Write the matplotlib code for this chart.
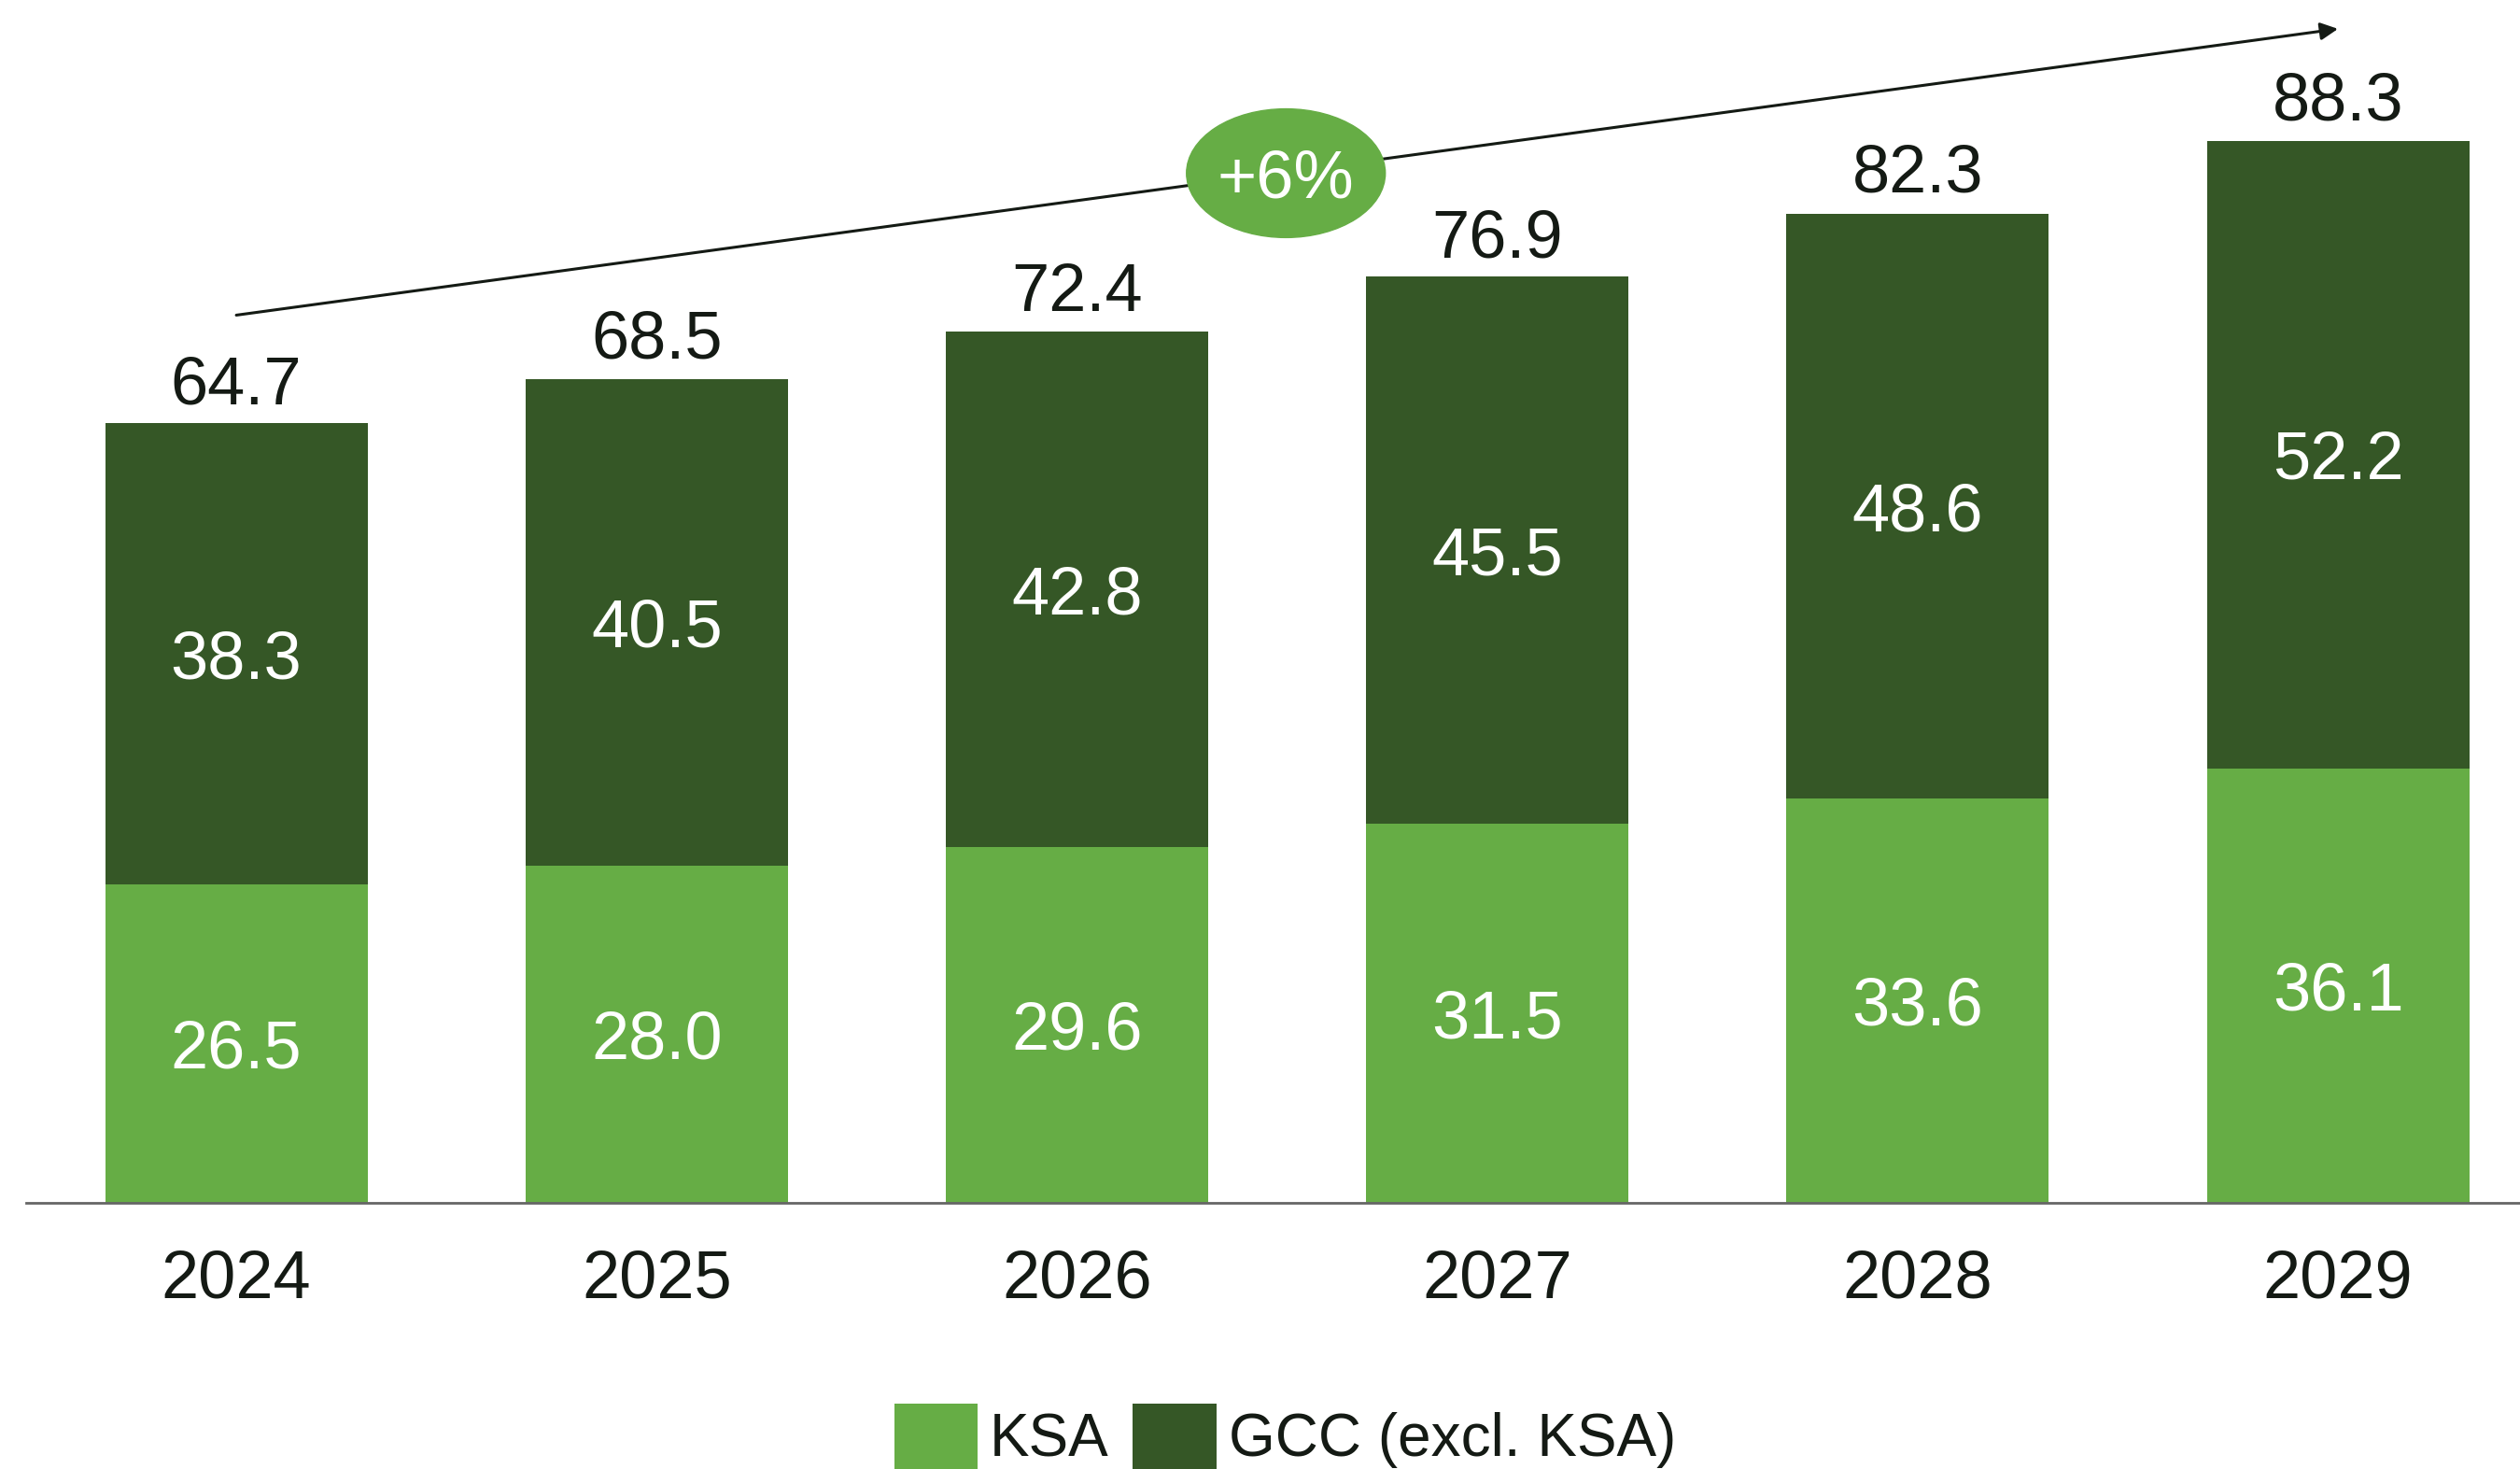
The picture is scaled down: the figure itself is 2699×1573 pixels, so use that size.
import matplotlib
matplotlib.use("Agg")
import matplotlib.pyplot as plt
from matplotlib.patches import Ellipse

plt.rcParams['font.family'] = ['Liberation Sans', 'DejaVu Sans']

# Market size by year, split into KSA and rest of GCC
years = ['2024', '2025', '2026', '2027', '2028', '2029']
ksa = [26.5, 28.0, 29.6, 31.5, 33.6, 36.1]
gcc_excl_ksa = [38.3, 40.5, 42.8, 45.5, 48.6, 52.2]
totals = [64.7, 68.5, 72.4, 76.9, 82.3, 88.3]
cagr_label = '+6%'

LIGHT = '#66AD45'
DARK = '#355726'
TEXT = '#141A14'


def draw_chart(path):
    """
    Draws the stacked bar chart with the growth arrow and saves it.

    Args:
        path (str): Output file name.
    """
    fig = plt.figure(figsize=(26.99, 15.73), dpi=100)
    ax = fig.add_axes([28 / 2699, 1 - 1288 / 1573, 1 - 28 / 2699, 1288 / 1573])

    x = list(range(len(years)))
    width = 0.624
    ax.bar(x, ksa, width, color=LIGHT, label='KSA')
    ax.bar(x, gcc_excl_ksa, width, bottom=ksa, color=DARK, label='GCC (excl. KSA)')

    # Values inside each segment
    for i in x:
        ax.text(i, ksa[i] / 2, f'{ksa[i]:.1f}', ha='center', va='center_baseline',
                color='white', fontsize=52)
        ax.text(i, ksa[i] + gcc_excl_ksa[i] / 2, f'{gcc_excl_ksa[i]:.1f}', ha='center',
                va='center_baseline', color='white', fontsize=52)
        ax.annotate(f'{totals[i]:.1f}', (i, totals[i]), xytext=(0, 16),
                    textcoords='offset points', ha='center', va='baseline',
                    color=TEXT, fontsize=52)

    # Growth arrow with the CAGR bubble
    ax.annotate('', xy=(5.0, 97.6), xytext=(0, 73.8),
                arrowprops=dict(arrowstyle='-|>', color=TEXT, lw=2.2,
                                mutation_scale=28, shrinkA=0, shrinkB=0))
    ax.add_patch(Ellipse((2.497, 85.6), 0.473, 10.7, color=LIGHT, zorder=3))
    ax.text(2.497, 85.6, cagr_label, ha='center', va='center_baseline',
            color='white', fontsize=52, zorder=4)

    ax.set_xlim(-0.5, 5.433)
    ax.set_ylim(0, 100)
    ax.set_xticks(x)
    ax.set_xticklabels(years, fontsize=52, color=TEXT)
    ax.tick_params(axis='x', length=0, pad=36)
    ax.set_yticks([])
    for side in ['top', 'right', 'left']:
        ax.spines[side].set_visible(False)
    ax.spines['bottom'].set_color('#666666')
    ax.spines['bottom'].set_linewidth(2)

    fig.legend(loc='lower center', bbox_to_anchor=(0.51, -0.02), ncol=2,
               frameon=False, fontsize=46, handlelength=1.4, handleheight=1.3,
               handletextpad=0.2, columnspacing=0.4, borderpad=0, labelcolor=TEXT)

    fig.savefig(path, dpi=100)


draw_chart('out.png')
